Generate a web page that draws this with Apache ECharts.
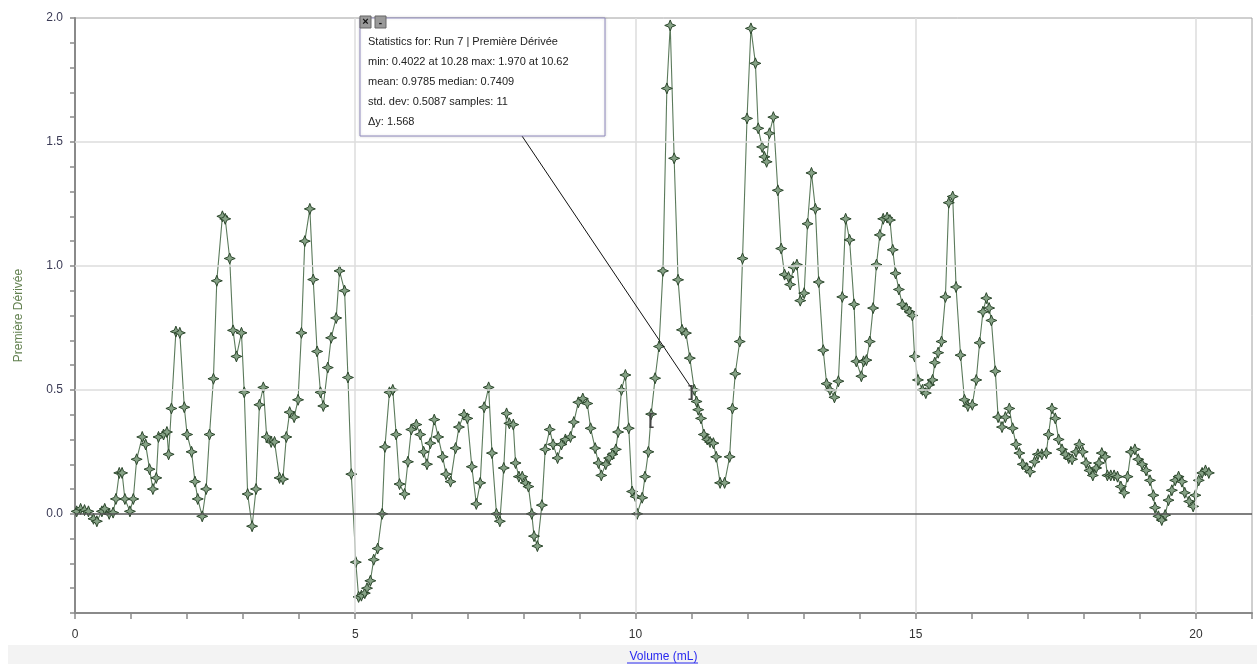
<!DOCTYPE html>
<html>
<head>
<meta charset="utf-8">
<script src="https://cdn.jsdelivr.net/npm/echarts@6/dist/echarts.min.js"></script>
<style>
  html, body { margin: 0; padding: 0; background: #fff; }
  #chart { width: 1257px; height: 664px; }
</style>
</head>
<body>
<div id="chart"></div>
<script>
// ---------- DATA ----------
const volumes = [
  0.03,0.10,0.17,0.24,0.33,0.39,0.48,0.53,0.61,0.68,0.73,0.79,0.84,0.89,0.98,
  1.04,1.10,1.20,1.26,1.33,1.39,1.45,1.49,1.58,1.64,1.67,1.72,1.80,1.87,1.95,
  2.00,2.08,2.14,2.19,2.27,2.34,2.40,2.47,2.53,2.63,2.68,2.76,2.82,2.88,2.97,
  3.02,3.08,3.16,3.23,3.29,3.36,3.42,3.50,3.56,3.65,3.71,3.77,3.83,3.91,3.98,
  4.04,4.10,4.19,4.25,4.32,4.38,4.43,4.51,4.57,4.66,4.72,4.81,4.87,4.93,
  5.01,5.06,5.11,5.17,5.21,5.27,5.33,5.40,5.48,5.53,5.61,5.67,5.73,5.79,5.88,5.94,
  6.00,6.09,6.16,6.22,6.28,6.34,6.41,6.48,6.56,6.62,6.70,6.79,6.85,6.94,
  7.00,7.08,7.16,7.23,7.30,7.38,7.44,7.52,7.58,7.65,7.70,7.75,7.82,7.86,7.92,7.98,
  8.04,8.09,8.15,8.19,8.25,8.33,8.39,8.47,8.53,8.61,8.68,8.75,8.84,8.90,8.98,
  9.06,9.14,9.20,9.28,9.34,9.39,9.47,9.53,9.59,9.65,9.69,9.75,9.82,9.88,9.94,
  10.00,10.03,10.12,10.17,10.23,10.28,10.35,10.42,10.49,10.56,10.62,10.69,10.76,10.83,10.90,10.97,
  11.05,11.09,11.12,11.17,11.22,11.28,11.33,11.39,11.44,11.51,11.59,11.68,11.73,11.78,11.86,11.91,11.99,
  12.06,12.14,12.19,12.26,12.30,12.34,12.39,12.46,12.54,12.60,12.66,12.73,12.76,12.82,12.88,12.94,
  13.01,13.07,13.14,13.21,13.27,13.35,13.41,13.47,13.55,13.62,13.69,13.75,13.82,13.90,13.94,
  14.03,14.07,14.12,14.18,14.24,14.30,14.36,14.42,14.49,14.54,14.59,14.64,14.70,14.76,14.83,14.89,14.94,14.98,
  15.04,15.12,15.18,15.24,15.30,15.34,15.40,15.46,15.53,15.59,15.66,15.72,15.80,15.87,15.93,
  16.01,16.08,16.14,16.20,16.26,16.31,16.35,16.42,16.47,16.54,16.60,16.67,16.73,16.79,16.85,16.91,16.98,
  17.04,17.12,17.18,17.25,17.33,17.37,17.43,17.49,17.55,17.61,17.67,17.73,17.79,17.86,17.92,17.98,
  18.04,18.10,18.16,18.22,18.27,18.32,18.38,18.42,18.48,18.54,18.60,18.66,18.72,18.78,18.84,18.91,18.97,
  19.04,19.11,19.18,19.24,19.27,19.33,19.39,19.45,19.51,19.57,19.63,19.69,19.75,19.80,19.88,19.95,19.99,
  20.05,20.11,20.17,20.23
];
const derivative = [
  0.01,0.02,0.015,0.01,-0.02,-0.03,0.01,0.02,0.00,0.005,0.06,0.165,0.165,0.06,0.01,
  0.06,0.22,0.31,0.28,0.18,0.10,0.145,0.31,0.32,0.33,0.24,0.425,0.735,0.73,0.43,
  0.32,0.25,0.13,0.06,-0.01,0.10,0.32,0.545,0.94,1.20,1.19,1.03,0.74,0.635,0.73,
  0.49,0.08,-0.05,0.10,0.44,0.51,0.31,0.29,0.29,0.145,0.14,0.31,0.41,0.39,0.46,
  0.73,1.10,1.23,0.945,0.655,0.49,0.435,0.59,0.71,0.79,0.98,0.90,0.55,0.16,
  -0.195,-0.335,-0.33,-0.32,-0.30,-0.27,-0.185,-0.14,0.00,0.27,0.49,0.50,0.32,0.12,0.08,0.21,
  0.34,0.36,0.32,0.25,0.20,0.285,0.38,0.31,0.23,0.16,0.13,0.265,0.35,0.40,
  0.385,0.19,0.04,0.125,0.43,0.51,0.245,0.00,-0.03,0.185,0.405,0.365,0.36,0.205,0.15,0.15,
  0.125,0.11,0.00,-0.09,-0.13,0.035,0.26,0.34,0.28,0.225,0.28,0.30,0.31,0.37,0.45,
  0.465,0.445,0.345,0.265,0.205,0.155,0.20,0.225,0.24,0.26,0.33,0.50,0.56,0.345,0.09,
  0.07,0.00,0.065,0.15,0.25,0.4022,0.547,0.675,0.98,1.716,1.970,1.434,0.944,0.742,0.729,0.628,
  0.50,0.453,0.42,0.385,0.32,0.30,0.29,0.285,0.23,0.125,0.125,0.23,0.425,0.565,0.695,1.03,1.595,
  1.958,1.817,1.555,1.48,1.44,1.42,1.535,1.60,1.305,1.07,0.965,0.955,0.925,0.995,1.005,0.86,
  0.89,1.17,1.375,1.23,0.935,0.66,0.525,0.50,0.47,0.535,0.875,1.19,1.105,0.845,0.615,
  0.555,0.615,0.62,0.695,0.83,1.005,1.125,1.19,1.195,1.185,1.065,0.97,0.905,0.845,0.83,0.815,0.80,0.635,
  0.54,0.50,0.487,0.52,0.54,0.61,0.65,0.695,0.875,1.255,1.28,0.915,0.64,0.46,0.435,
  0.44,0.54,0.69,0.815,0.87,0.83,0.78,0.575,0.39,0.35,0.39,0.425,0.345,0.28,0.245,0.20,0.185,
  0.17,0.21,0.24,0.24,0.245,0.32,0.425,0.385,0.30,0.26,0.24,0.225,0.22,0.25,0.28,0.25,
  0.205,0.175,0.155,0.185,0.205,0.245,0.23,0.155,0.155,0.155,0.15,0.11,0.085,0.15,0.25,0.26,0.22,
  0.20,0.175,0.135,0.075,0.025,-0.01,-0.025,-0.005,0.055,0.095,0.135,0.15,0.13,0.085,0.05,0.03,0.075,
  0.135,0.165,0.175,0.165
];
const xLabelValues = [0, 5, 10, 15, 20];
const yLabelValues = [0.0, 0.5, 1.0, 1.5, 2.0];
const xGridValues = [5, 10, 15, 20];
const yGridValues = [0.5, 1.0, 1.5];
const xAxisTitle = 'Volume (mL)';
const yAxisTitle = 'Première Dérivée';
const statsLines = [
  'Statistics for: Run 7 | Première Dérivée',
  'min: 0.4022 at 10.28 max: 1.970 at 10.62',
  'mean: 0.9785 median: 0.7409',
  'std. dev: 0.5087 samples: 11',
  'Δy: 1.568'
];
const bracketStart = [10.28, 0.4022];
const bracketEnd = [10.99, 0.49];

// ---------- CHART ----------
const FONT = 'Liberation Sans, Arial, Helvetica, sans-serif';
const chart = echarts.init(document.getElementById('chart'), null, { renderer: 'canvas' });
const points = volumes.map((v, i) => [v, derivative[i]]);
const near = (v, arr) => arr.some(a => Math.abs(a - v) < 1e-6);

const starPath = 'path://M5,0 L6.4,3.6 L10,5 L6.4,6.4 L5,10 L3.6,6.4 L0,5 L3.6,3.6 Z';

chart.setOption({
  animation: false,
  backgroundColor: '#ffffff',
  grid: { left: 75, right: 5, top: 18, bottom: 51, show: true, borderColor: '#a0a0a0', borderWidth: 1,
          containLabel: false, outerBoundsMode: 'none' },
  xAxis: {
    type: 'value', min: 0, max: 21, interval: 1,
    name: xAxisTitle, nameLocation: 'middle', nameGap: 38,
    nameTextStyle: { color: '#2a2af0', fontSize: 12, fontFamily: FONT },
    axisLine: { show: true, onZero: false, lineStyle: { color: '#8a8a8a', width: 2 } },
    axisTick: { show: true, length: 6, lineStyle: { color: '#8a8a8a', width: 1.5 } },
    axisLabel: { color: '#333', fontSize: 12, fontFamily: FONT, margin: 16,
      formatter: v => near(v, xLabelValues) ? String(Math.round(v)) : '' },
    splitLine: { show: false }
  },
  yAxis: {
    type: 'value', min: -0.4, max: 2.0, interval: 0.1,
    name: yAxisTitle, nameLocation: 'middle', nameGap: 50, nameRotate: 90,
    nameTextStyle: { color: '#62804f', fontSize: 12, fontFamily: FONT },
    axisLine: { show: true, onZero: false, lineStyle: { color: '#8a8a8a', width: 2 } },
    axisTick: { show: true, length: 5, lineStyle: { color: '#8a8a8a', width: 1.5 } },
    axisLabel: { color: '#3a3a55', fontSize: 12, fontFamily: FONT, margin: 12,
      formatter: v => near(v, yLabelValues) ? v.toFixed(1) : '' },
    splitLine: { show: false }
  },
  series: [
    {
      type: 'line', data: [], z: 1, silent: true,
      markLine: {
        silent: true, symbol: 'none', animation: false, label: { show: false },
        lineStyle: { color: '#dcdcdc', width: 1.5, type: 'solid' },
        data: [
          ...xGridValues.map(v => ({ xAxis: v })),
          ...yGridValues.map(v => ({ yAxis: v })),
          { yAxis: 0, lineStyle: { color: '#555555', width: 1.5, type: 'solid' } }
        ]
      }
    },
    {
      type: 'line', data: points, z: 3,
      showAllSymbol: true, symbol: starPath, symbolSize: 11,
      lineStyle: { color: '#5b7a5b', width: 1.1 },
      itemStyle: { color: '#86a286', borderColor: '#2c472c', borderWidth: 1 }
    }
  ]
});

// annotation (positioned from data coordinates)
const pS = chart.convertToPixel({ gridIndex: 0 }, bracketStart);
const pE = chart.convertToPixel({ gridIndex: 0 }, bracketEnd);
const box = { x: 360, y: 18, w: 245, h: 118 };
const graphics = [
  { type: 'rect', z: -10, silent: true, shape: { x: 8, y: 645, width: 1249, height: 19 }, style: { fill: '#f3f3f3' } },
  { type: 'line', z: 50, silent: true, shape: { x1: 627, y1: 663, x2: 698, y2: 663 }, style: { stroke: '#2a2af0', lineWidth: 1 } },
  { type: 'line', z: 90, silent: true, shape: { x1: 522, y1: box.y + box.h, x2: pE[0], y2: pE[1] - 5 }, style: { stroke: '#111', lineWidth: 1 } },
  { type: 'text', z: 95, silent: true, x: pS[0], y: pS[1] + 6, style: { text: '[', fill: '#444', font: 'bold 16px ' + FONT, align: 'center', verticalAlign: 'middle' } },
  { type: 'text', z: 95, silent: true, x: pE[0], y: pE[1], style: { text: ']', fill: '#444', font: 'bold 16px ' + FONT, align: 'center', verticalAlign: 'middle' } },
  { type: 'rect', z: 100, silent: true, shape: { x: box.x, y: box.y, width: box.w, height: box.h }, style: { fill: '#ffffff', stroke: '#8f89bd', lineWidth: 1, shadowBlur: 3, shadowColor: 'rgba(0,0,0,0.15)' } },
  { type: 'rect', z: 101, silent: true, shape: { x: 360, y: 16, width: 11, height: 12 }, style: { fill: '#9a9a9a', stroke: '#666', lineWidth: 1 } },
  { type: 'text', z: 102, silent: true, x: 365.5, y: 22, style: { text: '×', fill: '#111', font: 'bold 11px ' + FONT, align: 'center', verticalAlign: 'middle' } },
  { type: 'rect', z: 101, silent: true, shape: { x: 375, y: 16, width: 11, height: 12 }, style: { fill: '#9a9a9a', stroke: '#666', lineWidth: 1 } },
  { type: 'text', z: 102, silent: true, x: 380.5, y: 23, style: { text: '-', fill: '#111', font: 'bold 10px ' + FONT, align: 'center', verticalAlign: 'middle' } }
];
statsLines.forEach((t, i) => {
  graphics.push({ type: 'text', z: 102, silent: true, x: 368, y: 42 + i * 20,
    style: { text: t, fill: '#222', font: '11px ' + FONT, verticalAlign: 'middle' } });
});
chart.setOption({ graphic: graphics });
</script>
</body>
</html>
